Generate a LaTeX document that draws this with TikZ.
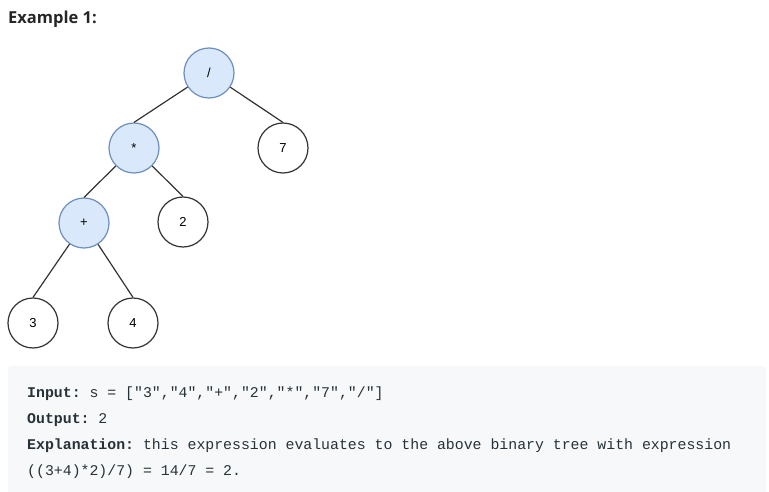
\documentclass[tikz,border=0pt]{standalone}
\usepackage{fontspec}
\setmainfont{Open Sans}
\setsansfont{Liberation Sans}
\setmonofont{Liberation Mono}
\definecolor{opfill}{HTML}{DAE8FC}
\definecolor{opline}{HTML}{6C8EBF}
\definecolor{edgegray}{HTML}{333333}
\definecolor{codebg}{HTML}{F7F8FA}
\definecolor{headtext}{HTML}{262626}
\definecolor{codetext}{HTML}{263238}
\begin{document}
\begin{tikzpicture}[x=1pt,y=-1pt,
  leaf/.style={circle,draw=edgegray,fill=white,line width=1.2pt,minimum size=50pt,inner sep=0pt,font=\sffamily\fontsize{13}{15}\selectfont},
  op/.style={leaf,draw=opline,fill=opfill},
  edge/.style={draw=edgegray,line width=1.2pt},
  codeline/.style={anchor=base west,inner sep=0pt,text=codetext,font=\ttfamily\fontsize{14.85}{18}\selectfont}]
\useasboundingbox (0,0) rectangle (769,492);

% Title
\node[anchor=base west,inner sep=0pt,text=headtext,font=\bfseries\fontsize{16.5}{19}\selectfont] (title) at (8,24) {Example 1:};

% Tree
\node[op] (div) at (209,73) {/};
\node[op] (mul) at (134,148) {*};
\node[leaf] (seven) at (283,148) {7};
\node[op] (add) at (84,223) {+};
\node[leaf] (two) at (183,222) {2};
\node[leaf] (three) at (33,323) {3};
\node[leaf] (four) at (133,323) {4};

\draw[edge] (div) -- (mul.north);
\draw[edge] (div) -- (seven.north);
\draw[edge] (mul) -- (add.north);
\draw[edge] (mul) -- (two.north);
\draw[edge] (add) -- (three.north);
\draw[edge] (add) -- (four.north);

% Example box
\fill[codebg,rounded corners=3pt] (8,366) rectangle (766,495);
\node[codeline] (input) at (27,397) {\textbf{Input:} s = ["3","4","+","2","*","7","/"]};
\node[codeline] (output) at (27,423) {\textbf{Output:} 2};
\node[codeline] (expl) at (27,449) {\textbf{Explanation:} this expression evaluates to the above binary tree with expression};
\node[codeline] (expr) at (27,475) {((3+4)*2)/7) = 14/7 = 2.};

\end{tikzpicture}
\end{document}
